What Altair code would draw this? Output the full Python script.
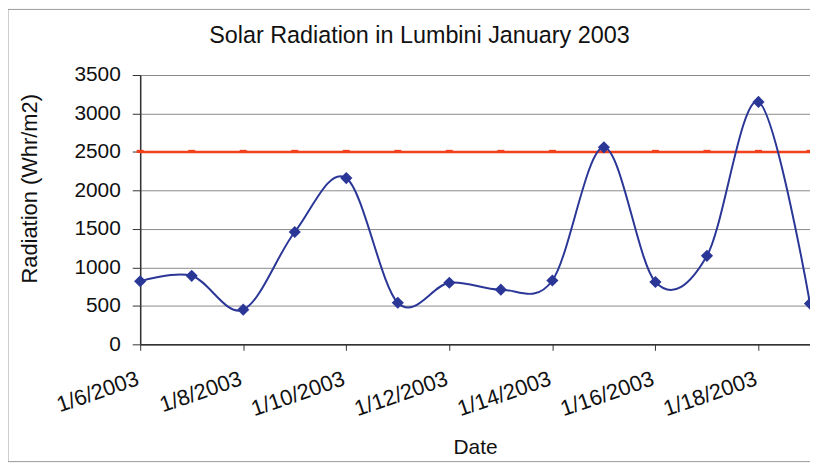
import altair as alt
import pandas as pd

dates = ["2003-01-06", "2003-01-07", "2003-01-08", "2003-01-09", "2003-01-10",
         "2003-01-11", "2003-01-12", "2003-01-13", "2003-01-14", "2003-01-15",
         "2003-01-16", "2003-01-17", "2003-01-18", "2003-01-19"]
radiation = [820, 890, 450, 1460, 2160, 540, 800, 710, 830, 2560, 810, 1150, 3150, 530]
threshold = [2500, 2500, 2500, 2500, 2500, 2500, 2500, 2500, 2500, 2500, 2500, 2500, 2500, 2500]
tick_dates = ["2003-01-06", "2003-01-08", "2003-01-10", "2003-01-12",
              "2003-01-14", "2003-01-16", "2003-01-18"]
y_ticks = [0, 500, 1000, 1500, 2000, 2500, 3000, 3500]

df = pd.DataFrame({"Date": dates, "Radiation": radiation, "Threshold": threshold})

FONT = "Liberation Sans"
BLUE = "#2b3797"
RED = "#f2401c"

def dt(s):
    y, m, d = s.split("-")
    return alt.DateTime(year=int(y), month=int(m), date=int(d), utc=True)

x_scale = alt.Scale(type="utc", domain=[dt(dates[0]), dt(dates[-1])], nice=False)
x_axis = alt.Axis(
    title="Date",
    values=[dt(s) for s in tick_dates],
    format="%-m/%-d/%Y",
    labelAngle=341,
    labelAlign="right",
    labelBaseline="top",
    labelPadding=18,
    labelOffset=-6,
    labelFontSize=22,
    labelColor="#111",
    tickSize=6,
    tickColor="#333",
    domainColor="#333",
    domainWidth=1.5,
    grid=False,
    titleFontSize=21,
    titleFontWeight="normal",
    titleColor="#111",
    titleY=110,
    titleBaseline="alphabetic",
    labelFlush=False,
    labelOverlap=False,
)

y_scale = alt.Scale(domain=[0, 3500], nice=False)
y_axis = alt.Axis(
    title="Radiation (Whr/m2)",
    values=y_ticks,
    format="d",
    labelOverlap=False,
    labelFontSize=21,
    labelColor="#111",
    labelPadding=12,
    tickSize=8,
    tickColor="#333",
    domainColor="#333",
    domainWidth=1.5,
    grid=True,
    gridColor="#8a8a8a",
    gridWidth=1,
    titleFontSize=22,
    titleFontWeight="normal",
    titleColor="#111",
    titleX=-111,
    titleY=114,
    titleAngle=270,
    titleAlign="center",
    titleBaseline="middle",
)

def X():
    return alt.X("Date:T", scale=x_scale, axis=x_axis)

def Y(field):
    return alt.Y(field, scale=y_scale, axis=y_axis)

base = alt.Chart(df)

line_red = base.mark_line(color=RED, strokeWidth=2.5).encode(x=X(), y=Y("Threshold:Q"))
pts_red = base.mark_point(
    shape="M-1,-0.6L1,-0.6L1,0.3L-1,0.3Z", filled=True, size=50, color=RED, opacity=1
).encode(x=X(), y=Y("Threshold:Q"))
line_blue = base.mark_line(color=BLUE, strokeWidth=2, interpolate="cardinal", clip=True).encode(
    x=X(), y=Y("Radiation:Q")
)
pts_blue = base.mark_point(shape="diamond", filled=True, size=150, color=BLUE, opacity=1).encode(
    x=X(), y=Y("Radiation:Q")
)

border = alt.Chart(pd.DataFrame({"a": [0]})).mark_rect(
    fill=None, stroke="#9a9a9a", strokeWidth=1
).encode(x=alt.value(-133), x2=alt.value(680), y=alt.value(-66), y2=alt.value(389))

chart = alt.layer(line_red, pts_red, line_blue, pts_blue, border).properties(
    width=674,
    height=271,
    title=alt.TitleParams(
        "Solar Radiation in Lumbini January 2003",
        font=FONT,
        fontSize=23.5,
        fontWeight="normal",
        color="#111",
        anchor="middle",
        dx=-56,
        offset=-39,
    ),
    autosize=alt.AutoSizeParams(type="none"),
    padding={"left": 133, "top": 66, "right": 0, "bottom": 122},
).configure(font=FONT).configure_view(stroke="#8a8a8a", strokeWidth=1).configure_axis(
    labelFont=FONT, titleFont=FONT
)

chart.save("out.html", embed_options={"renderer": "svg", "actions": False})
